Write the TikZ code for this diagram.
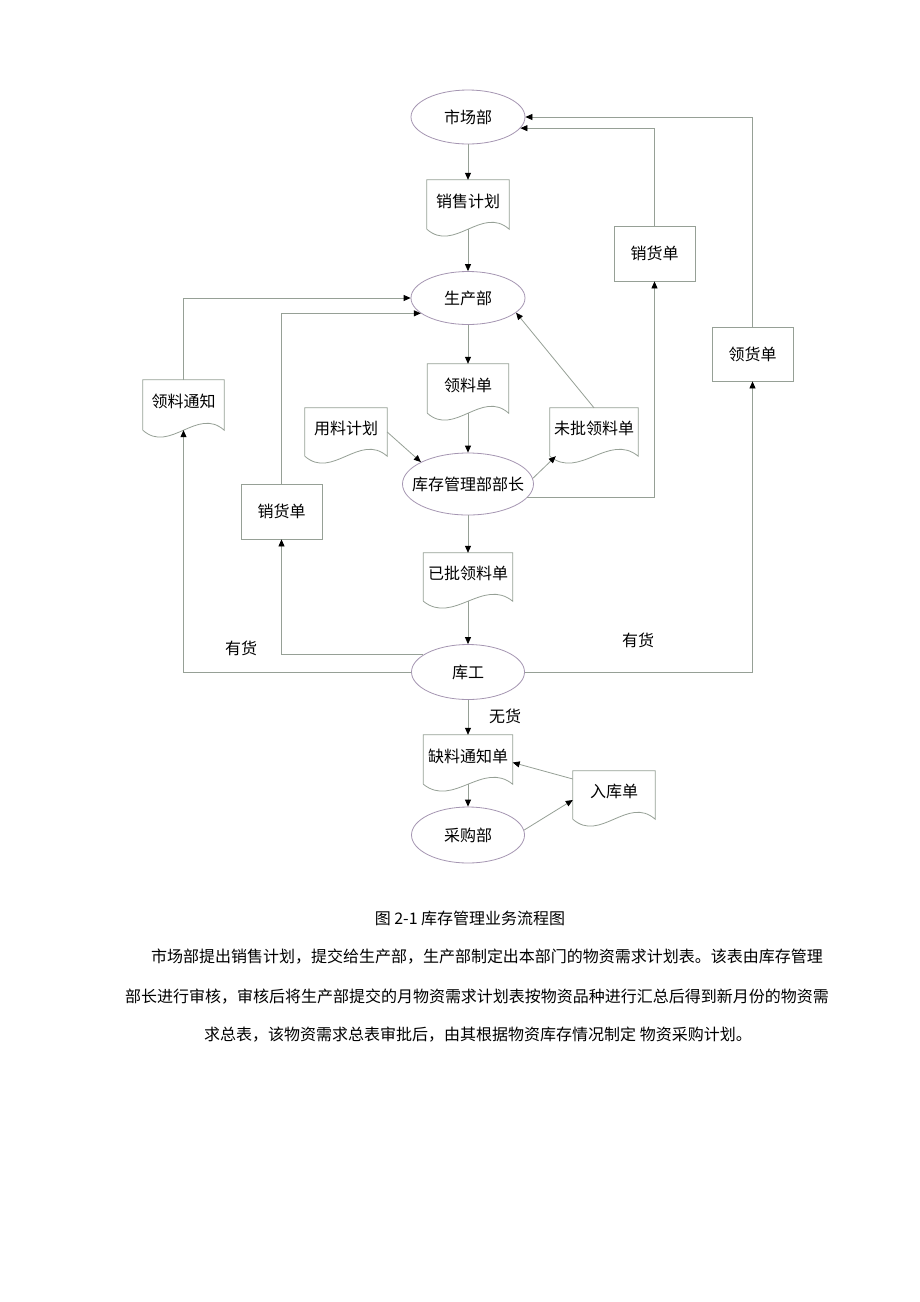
\documentclass[tikz,border=0pt]{standalone}
\usepackage{fontspec}
\newfontfamily\cjk{Noto Sans CJK SC}
\usetikzlibrary{shapes.geometric, arrows.meta, calc}
\definecolor{LineGray}{RGB}{150,160,150}
\definecolor{EllGray}{RGB}{165,150,178}
\newcommand{\docwave}[1]{\draw[LineGray,line width=0.8pt] (#1.south west) -- (#1.north west) -- (#1.north east) -- (#1.south east) .. controls ($(#1.south east)!0.33!(#1.south west)+(0pt,24pt)$) and ($(#1.south west)!0.33!(#1.south east)+(0pt,-24pt)$) .. (#1.south west);}

\begin{document}
\begin{tikzpicture}[x=1pt,y=-1pt,font=\cjk\fontsize{16}{19}\selectfont,
    dept/.style={ellipse,draw=EllGray,line width=0.8pt,inner sep=0pt,minimum width=114pt,minimum height=54pt},
    slip/.style={rectangle,draw=LineGray,line width=0.8pt,minimum width=81pt,minimum height=55pt},
    doc/.style={rectangle,inner sep=0pt,text depth=8pt,minimum width=82pt,minimum height=49pt},
    flow/.style={LineGray,line width=0.8pt,-{Triangle[color=black,length=7pt,width=6pt]}}]
  \fill[white] (0,0) rectangle (920,1302);
  \node[dept] (mkt) at (468,117) {市场部};
  \node[doc] (splan) at (468,204.5) {销售计划};
  \node[dept,minimum height=53pt] (prod) at (468,298) {生产部};
  \node[doc,minimum width=81pt] (lld) at (468,388.5) {领料单};
  \node[dept,minimum width=131pt,minimum height=62pt] (mgr) at (468,484) {\makebox[0pt]{库存管理部部长}};
  \node[doc,minimum height=48pt] (yplan) at (346,432) {用料计划};
  \node[doc,minimum width=88pt,minimum height=48pt] (wpd) at (594,432) {未批领料单};
  \node[doc,minimum width=81pt,minimum height=50pt] (ltz) at (183.5,405) {领料通知};
  \node[slip] (sr) at (654.5,253.5) {销货单};
  \node[slip,minimum height=54pt] (lh) at (752.5,354) {领货单};
  \node[slip] (sl) at (281.5,511.5) {销货单};
  \node[doc,minimum width=89pt,minimum height=48pt] (ypd) at (468,577) {已批领料单};
  \node[dept,minimum width=113pt,minimum height=55pt] (kg) at (468,672) {库工};
  \node[doc,minimum width=89pt] (qt) at (468,759.5) {缺料通知单};
  \node[dept,minimum width=113pt,minimum height=56pt] (cg) at (468,835) {采购部};
  \node[doc,minimum height=48pt] (rk) at (614,795) {入库单};
  \docwave{splan} \docwave{lld} \docwave{yplan} \docwave{wpd}
  \docwave{ltz} \docwave{ypd} \docwave{qt} \docwave{rk}
  \node (yh1) at (241,648) {有货};
  \node (yh2) at (638,640) {有货};
  \node (wh) at (505,716) {无货};
  \draw[flow] (mkt.south) -- (splan.north);
  \draw[flow] (splan.south) -- (prod.north);
  \draw[flow] (prod.south) -- (lld.north);
  \draw[flow] (lld.south) -- (mgr.north);
  \draw[flow] (yplan.east) -- (mgr.155);
  \draw[flow] (mgr.5) -- ([xshift=6pt]wpd.south west);
  \draw[flow] (wpd.north) -- (prod.-17);
  \draw[flow] (mgr.-13) -| (sr.south);
  \draw[flow] (sr.north) |- (mkt.-12);
  \draw[flow] (lh.north) |- (mkt.east);
  \draw[flow] (kg.east) -| (lh.south);
  \draw[flow] (mgr.south) -- (ypd.north);
  \draw[flow] (ypd.south) -- (kg.north);
  \draw[flow] (kg.west) -| (ltz.south);
  \draw[flow] (ltz.north) |- (prod.west);
  \draw[flow] (kg.159) -| (sl.south);
  \draw[flow] (sl.north) |- (prod.198);
  \draw[flow] (kg.south) -- (qt.north);
  \draw[flow] (qt.south) -- (cg.north);
  \draw[flow] (cg.5) -- ([yshift=-5pt]rk.west);
  \draw[flow] ([yshift=16pt]rk.west) -- ([yshift=-3pt]qt.east);
  \node (cap) at (470,918) {图 2-1 库存管理业务流程图};
  \node (para1) at (487,957) {市场部提出销售计划，提交给生产部，生产部制定出本部门的物资需求计划表。该表由库存管理};
  \node (para2) at (477,997) {部长进行审核，审核后将生产部提交的月物资需求计划表按物资品种进行汇总后得到新月份的物资需};
  \node (para3) at (478,1035) {求总表，该物资需求总表审批后，由其根据物资库存情况制定 物资采购计划。};
\end{tikzpicture}
\end{document}
